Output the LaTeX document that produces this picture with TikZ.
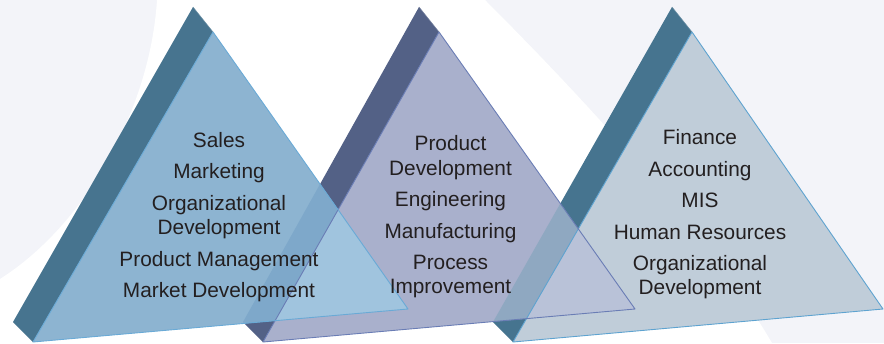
\documentclass[tikz,border=0pt]{standalone}
\usepackage{fontspec}
\setmainfont{Liberation Sans}
\begin{document}
\begin{tikzpicture}[x=1bp,y=-1bp]
% palette
\definecolor{bgtint}{HTML}{F3F4F9}
\definecolor{frontA}{HTML}{8DB4D1}
\definecolor{stripA}{HTML}{47748F}
\definecolor{edgeA}{HTML}{6AAAD6}
\definecolor{frontB}{HTML}{A9B0CC}
\definecolor{stripB}{HTML}{536186}
\definecolor{edgeB}{HTML}{6A7DB5}
\definecolor{frontC}{HTML}{C0CDD9}
\definecolor{stripC}{HTML}{46748F}
\definecolor{edgeC}{HTML}{5EA3D0}
\definecolor{mixAB}{HTML}{A0C4DE}
\definecolor{mixAsB}{HTML}{7EA8CA}
\definecolor{mixBC}{HTML}{B9C2D8}
\definecolor{mixBsC}{HTML}{8FA8C1}
\definecolor{ink}{HTML}{231F20}
\tikzset{
  lbl/.style={text=ink, align=center, inner sep=0pt,
    font=\fontsize{20.9}{24.5}\selectfont},
  rim/.style={line width=0.9bp, line join=round},
}
\useasboundingbox (0,0) rectangle (884,343);

% background swooshes
\fill[bgtint] (0,0) rectangle (884,343);
\fill[white] (157,0) -- (485,0) .. controls (560,75) and (700,220) .. (772,343)
  -- (0,343) -- (0,279) .. controls (85,225) and (150,110) .. (157,0) -- cycle;

% corner points of the three prisms (back apex, front apex, front left, back left, front right)
\coordinate (A-ba) at (193,7);  \coordinate (A-fa) at (213,32);
\coordinate (A-fl) at (33,342); \coordinate (A-bl) at (13,322);
\coordinate (A-fr) at (408,309);
\coordinate (B-ba) at (419,7);  \coordinate (B-fa) at (439,32);
\coordinate (B-fl) at (263,342); \coordinate (B-bl) at (243,322);
\coordinate (B-fr) at (635,309);
\coordinate (C-ba) at (672,7);  \coordinate (C-fa) at (692,32);
\coordinate (C-fl) at (513,342); \coordinate (C-bl) at (493,322);
\coordinate (C-fr) at (883,309);

% prisms, back to front
\foreach \p/\s/\f in {C/stripC/frontC, B/stripB/frontB, A/stripA/frontA}{
  \fill[\s] (\p-ba) -- (\p-fa) -- (\p-fl) -- (\p-bl) -- cycle;
  \fill[\f] (\p-fa) -- (\p-fl) -- (\p-fr) -- cycle;
}

% see-through overlaps
\begin{scope}
  \clip (A-fa) -- (A-fl) -- (A-fr) -- cycle;
  \fill[mixAB] (B-fa) -- (B-fl) -- (B-fr) -- cycle;
  \fill[mixAsB] (B-ba) -- (B-fa) -- (B-fl) -- (B-bl) -- cycle;
\end{scope}
\begin{scope}
  \clip (B-fa) -- (B-fl) -- (B-fr) -- cycle;
  \fill[mixBC] (C-fa) -- (C-fl) -- (C-fr) -- cycle;
  \fill[mixBsC] (C-ba) -- (C-fa) -- (C-fl) -- (C-bl) -- cycle;
\end{scope}

% rims
\foreach \p/\e/\s in {C/edgeC/stripC, B/edgeB/stripB, A/edgeA/stripA}{
  \draw[rim, \s!80!white, line width=0.5bp] (\p-ba) -- (\p-fa);
  \draw[rim, \e] (\p-fa) -- (\p-fl) -- (\p-fr) -- cycle;
}

% labels
\node[lbl] (listA) at (219,217) {Sales\\[7bp]Marketing\\[7bp]Organizational\\Development\\[7bp]Product Management\\[7bp]Market Development};
\node[lbl] (listB) at (450.5,217) {Product\\Development\\[7bp]Engineering\\[7bp]Manufacturing\\[7bp]Process\\Improvement};
\node[lbl] (listC) at (700,214.5) {Finance\\[7bp]Accounting\\[7bp]MIS\\[7bp]Human Resources\\[7bp]Organizational\\Development};
\end{tikzpicture}
\end{document}
